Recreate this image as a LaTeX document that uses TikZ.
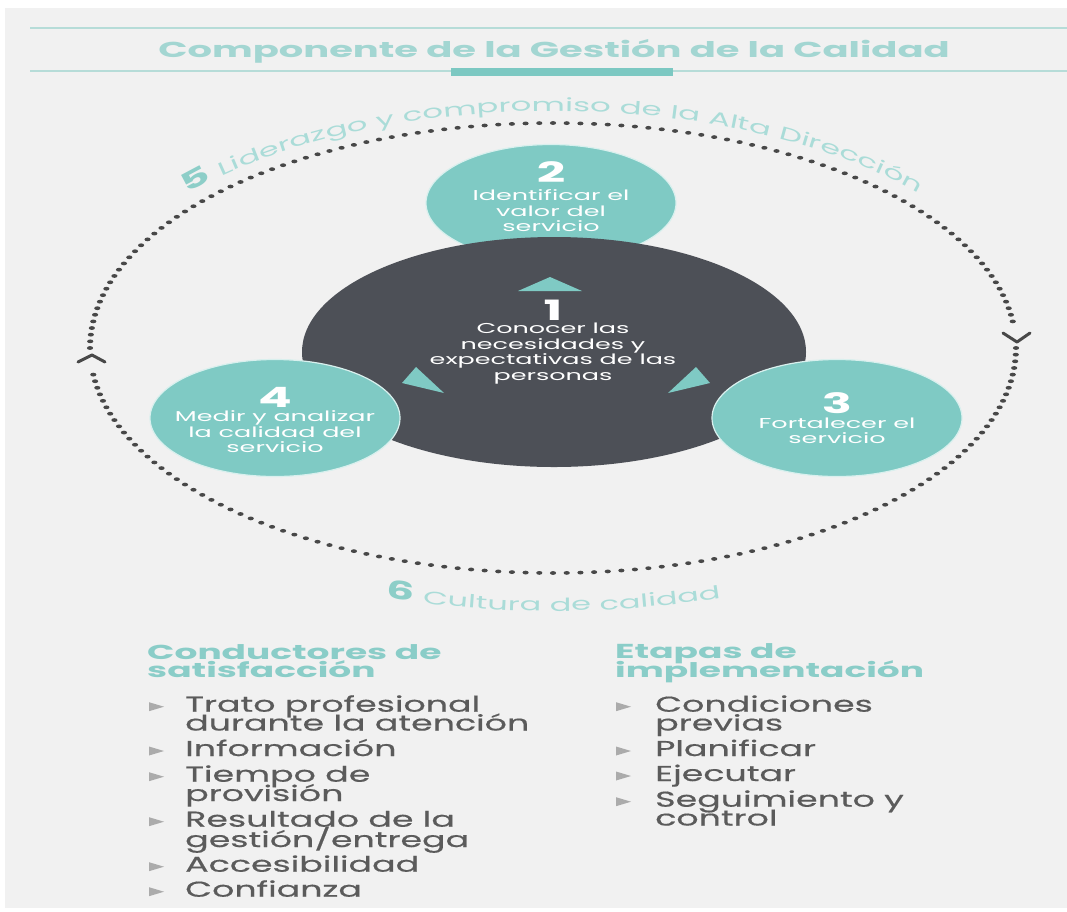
\documentclass[tikz,border=0pt]{standalone}
\usepackage{fontspec}
\usetikzlibrary{shapes.geometric,decorations.text,calc}
\newfontfamily\popfont[FakeStretch=1.78]{Poppins}
\newfontfamily\itemfont[FakeStretch=1.62,FakeBold=0.5]{Poppins}

\definecolor{panelgray}{HTML}{F1F1F1}
\definecolor{circteal}{HTML}{7FCAC4}
\definecolor{ringedge}{HTML}{D9F0EE}
\definecolor{darkdisc}{HTML}{4D5057}
\definecolor{titleteal}{HTML}{A3D6D2}
\definecolor{headteal}{HTML}{8ACDC8}
\definecolor{arcteal}{HTML}{AADCD8}
\definecolor{numteal}{HTML}{8DCEC8}
\definecolor{itemgray}{HTML}{5B5B5B}
\definecolor{dotgray}{HTML}{484848}
\definecolor{ruleteal}{HTML}{B6DCD8}
\definecolor{barteal}{HTML}{7CC8C2}
\definecolor{bulletgray}{HTML}{ABABAB}

\tikzset{
  titletext/.style={inner sep=0, anchor=base, text=titleteal,
    font=\popfont\bfseries\fontsize{21.6}{21.6}\selectfont},
  headtext/.style={inner sep=0, anchor=base west, text=headteal,
    font=\popfont\bfseries\fontsize{20.2}{20.2}\selectfont},
  itemtext/.style={inner sep=0, anchor=base west, text=itemgray,
    font=\itemfont\fontsize{21.5}{21.5}\selectfont},
  ring/.style={ellipse, fill=circteal, draw=ringedge, line width=1.2,
    inner sep=0, minimum width=250, minimum height=117},
  disc/.style={ellipse, fill=darkdisc, inner sep=0,
    minimum width=504, minimum height=230},
  stepnum/.style={inner sep=0, text=white,
    font=\popfont\bfseries\fontsize{28}{28}\selectfont},
  steptext/.style={inner sep=0, text=white, align=center,
    font=\popfont\fontsize{14.3}{15.5}\selectfont},
  chevron/.style={draw=dotgray, line width=3, line cap=round, line join=round},
  pointer/.style={fill=circteal},
}

\newcommand\listmark[2]{\fill[bulletgray] (#1,#2+4.5) -- (#1+15,#2) -- (#1,#2-4.5) -- cycle;}

\begin{document}
\begin{tikzpicture}[x=1pt,y=1pt]
  % page and panel
  \fill[white] (0,0) rectangle (1067,-911);
  \useasboundingbox (0,0) rectangle (1067,-911);
  \fill[panelgray] (5,-8) rectangle (1067,-908);

  % heading band
  \draw[ruleteal, line width=2] (30,-28) -- (1067,-28);
  \draw[ruleteal, line width=2] (30,-71) -- (1067,-71);
  \fill[barteal] (451,-68) rectangle (673,-76);
  \node[titletext] (title) at (554,-57) {Componente de la Gestión de la Calidad};

  % dotted cycle ring, with gaps where the two chevrons sit
  \coordinate (O) at (553,-348);
  \foreach \i in {0,...,211}{
    \pgfmathsetmacro\ang{\i*1.698113}
    \pgfmathsetmacro\gapA{abs(\ang-3)}
    \pgfmathsetmacro\gapB{abs(\ang-183.5)}
    \ifdim\gapA pt>2.6pt
      \ifdim\gapB pt>2.6pt
        \fill[dotgray] ({553+463*cos(\ang)},{-348+225*sin(\ang)}) ellipse[x radius=3.1, y radius=1.9];
      \fi
    \fi
  }
  \draw[chevron] (78,-362) -- (92,-355) -- (105,-362);
  \draw[chevron] (1003,-333) -- (1017,-342) -- (1030,-333);

  % labels along the ring
  \path[decorate, decoration={text along path, text align=center,
      text={|\popfont\bfseries\fontsize{25}{25}\selectfont\color{numteal}|5 |\popfont\mdseries\fontsize{18.2}{18.2}\selectfont\color{arcteal}|Liderazgo y compromiso de la Alta Dirección}}]
    ({553+482*cos(158)},{-348+237*sin(158)}) arc[start angle=158, end angle=22, x radius=482, y radius=237];
  \path[decorate, decoration={text along path, text align=center,
      text={|\popfont\bfseries\fontsize{25}{25}\selectfont\color{numteal}|6 |\popfont\mdseries\fontsize{18}{18}\selectfont\color{arcteal}|Cultura de calidad}}]
    ({553+533*cos(235)},{-350+261*sin(235)}) arc[start angle=235, end angle=305, x radius=533, y radius=261];

  % step discs
  \node[ring] (c2) at (551,-203) {};
  \node[disc] (c1) at (554,-352) {};
  \node[ring] (c4) at (275,-418) {};
  \node[ring] (c3) at (837,-418) {};

  % pointers inside the central disc
  \fill[pointer] (518,-291) -- (582,-291) -- (550,-277) -- cycle;
  \fill[pointer] (402,-383) -- (444,-393) -- (416,-367) -- cycle;
  \fill[pointer] (668,-393) -- (710,-383) -- (696,-367) -- cycle;

  % step texts
  \node[stepnum] (n2) at (551,-172.5) {2};
  \node[steptext] (t2) at (551,-211) {Identificar el\\valor del\\servicio};
  \node[stepnum] (n1) at (553,-310.5) {1};
  \node[steptext] (t1) at (553,-353.5) {Conocer las\\necesidades y\\expectativas de las\\personas};
  \node[stepnum] (n4) at (275,-397.5) {4};
  \node[steptext] (t4) at (275,-432) {Medir y analizar\\la calidad del\\servicio};
  \node[stepnum] (n3) at (837,-403) {3};
  \node[steptext] (t3) at (837,-431) {Fortalecer el\\servicio};

  % satisfaction drivers
  \node[headtext] (h1a) at (147,-659) {Conductores de};
  \node[headtext] (h1b) at (147,-677.3) {satisfacción};
  \node[itemtext] (d1a) at (185,-711.7) {Trato profesional};
  \node[itemtext] (d1b) at (185,-730.5) {durante la atención};
  \node[itemtext] (d2) at (185,-756) {Información};
  \node[itemtext] (d3a) at (185,-781.7) {Tiempo de};
  \node[itemtext] (d3b) at (185,-801) {provisión};
  \node[itemtext] (d4a) at (185,-826.7) {Resultado de la};
  \node[itemtext] (d4b) at (185,-847) {gestión/entrega};
  \node[itemtext] (d5) at (185,-871.7) {Accesibilidad};
  \node[itemtext] (d6) at (185,-896.7) {Confianza};
  \foreach \y in {706.7,751,776.7,821.7,866.7,891.7}{\listmark{149}{-\y}}

  % implementation stages
  \node[headtext] (h2a) at (615,-658.3) {Etapas de};
  \node[headtext] (h2b) at (615,-677.3) {implementación};
  \node[itemtext] (e1a) at (655,-711.7) {Condiciones};
  \node[itemtext] (e1b) at (655,-730.5) {previas};
  \node[itemtext] (e2) at (655,-756) {Planificar};
  \node[itemtext] (e3) at (655,-781) {Ejecutar};
  \node[itemtext] (e4a) at (655,-806.7) {Seguimiento y};
  \node[itemtext] (e4b) at (655,-825.5) {control};
  \foreach \y in {706.7,751,776,801.7}{\listmark{616}{-\y}}
\end{tikzpicture}
\end{document}
